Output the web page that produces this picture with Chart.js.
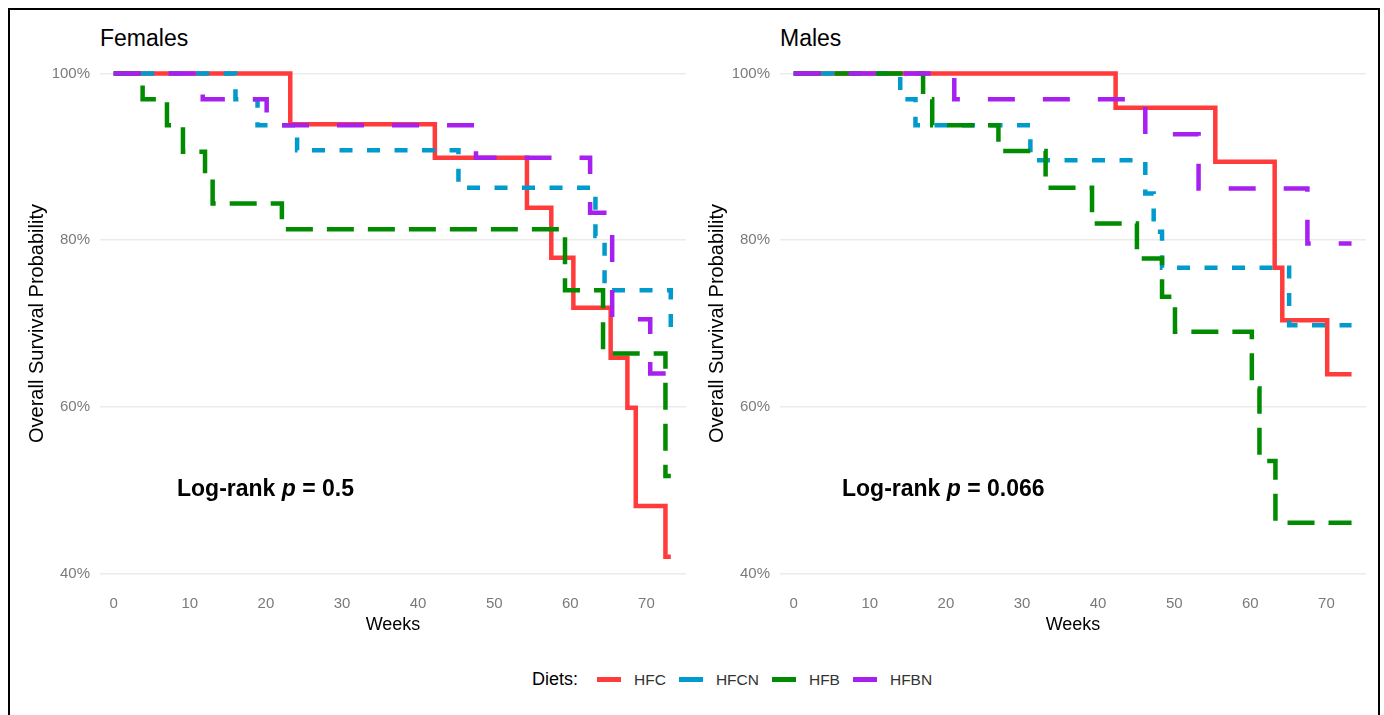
<html>
<head>
    <title>Survival by Diet</title>
    <script src="https://cdn.jsdelivr.net/npm/chart.js"></script>
    <style>
        body { margin: 0; background: #fff; font-family: 'Liberation Sans', Arial, sans-serif; }
        .frame { position: absolute; left: 8px; top: 8px; width: 1368px; height: 712px; border: 2px solid #000; }
        canvas { position: absolute; }
        .panel-title { position: absolute; top: 27px; font-size: 23px; line-height: 23px; color: #000; }
        .pval { position: absolute; top: 477px; font-size: 23px; line-height: 23px; font-weight: bold; color: #000; }
        #legend { position: absolute; left: 532px; top: 669px; display: flex; align-items: center; }
        #legend .lab { font-size: 18px; color: #000; margin-right: 19px; }
        #legend .sw { width: 24px; height: 5px; margin-right: 13px; }
        #legend .txt { font-size: 15.5px; color: #333; margin-right: 13px; }
    </style>
</head>
<body>
    <div class="frame"></div>
    <div class="panel-title" style="left:100px">Females</div>
    <div class="panel-title" style="left:780px">Males</div>
    <canvas id="femChart" width="680" height="598" style="left:10px; top:42px"></canvas>
    <canvas id="maleChart" width="686" height="598" style="left:690px; top:42px"></canvas>
    <div class="pval" style="left:177px">Log-rank <i>p</i> = 0.5</div>
    <div class="pval" style="left:842px">Log-rank <i>p</i> = 0.066</div>
    <div id="legend"></div>

    <script>
        // diets, colours, dash patterns
        const diets = ['HFC', 'HFCN', 'HFB', 'HFBN'];
        const dietColors = ['#FF3B3B', '#009ACD', '#008B00', '#A820F0'];
        const dietDash = [[], [13, 14.5], [27, 14], [27, 28]];

        const weekTicks = [0, 10, 20, 30, 40, 50, 60, 70];
        const survTicks = [40, 60, 80, 100];

        // Females: weeks at each step, survival % after the step
        const femHFC_t  = [0, 23.2, 42.2, 54.3, 57.5, 60.4, 65.3, 67.5, 68.6, 72.5, 73.2];
        const femHFC_s  = [100, 93.9, 89.9, 83.9, 77.9, 71.9, 65.9, 59.9, 48.1, 42.0, 42.0];
        const femHFCN_t = [0, 16.0, 18.9, 24.1, 45.3, 63.3, 64.5, 73.2, 73.4];
        const femHFCN_s = [100, 96.9, 93.8, 90.8, 86.3, 80.5, 74.0, 69.5, 69.5];
        const femHFB_t  = [0, 3.8, 7.0, 9.1, 12.0, 13.0, 22.1, 59.3, 64.3, 72.5, 73.2];
        const femHFB_s  = [100, 96.9, 93.8, 90.6, 87.5, 84.4, 81.3, 74.0, 66.4, 51.7, 51.7];
        const femHFBN_t = [0, 11.7, 20.1, 47.6, 62.6, 65.5, 70.5, 73.2];
        const femHFBN_s = [100, 96.9, 93.8, 89.9, 83.3, 70.5, 64.0, 64.0];

        // Males
        const maleHFC_t  = [0, 42.3, 55.4, 63.2, 64.2, 70.1, 73.3];
        const maleHFC_s  = [100, 95.9, 89.4, 76.7, 70.4, 63.9, 63.9];
        const maleHFCN_t = [0, 14.0, 16.0, 31.1, 46.2, 47.3, 48.4, 65.1, 73.3];
        const maleHFCN_s = [100, 96.9, 93.8, 89.6, 85.6, 81.0, 76.7, 69.8, 69.8];
        const maleHFB_t  = [0, 17.0, 18.2, 26.9, 33.1, 39.2, 45.1, 48.4, 50.1, 60.2, 61.2, 63.3, 73.3];
        const maleHFB_s  = [100, 96.9, 93.8, 90.7, 86.3, 82.0, 77.8, 73.2, 69.0, 62.2, 53.5, 46.1, 46.1];
        const maleHFBN_t = [0, 21.1, 46.2, 53.2, 67.5, 73.3];
        const maleHFBN_s = [100, 96.9, 92.7, 86.2, 79.6, 79.6];

        const tickFont = { family: "'Liberation Sans', Arial, sans-serif", size: 15 };
        const titleFont = { family: "'Liberation Sans', Arial, sans-serif", size: 20, lineHeight: 1.2 };

        function toPoints(t, s) {
            return t.map((x, i) => ({ x: x, y: s[i] }));
        }

        function makeChart(id, curves, rightPad) {
            const datasets = curves.map((c, i) => ({
                label: diets[i],
                data: toPoints(c[0], c[1]),
                borderColor: dietColors[i],
                borderDash: dietDash[i],
                borderWidth: 4.5,
                stepped: 'before',
                pointRadius: 0,
                fill: false,
                order: 4 - i   // purple on top, red at bottom
            }));
            new Chart(document.getElementById(id), {
                type: 'line',
                data: { datasets },
                options: {
                    responsive: false,
                    animation: false,
                    layout: { padding: { top: 0, right: rightPad, left: 0, bottom: 0 } },
                    plugins: { legend: { display: false }, tooltip: { enabled: false } },
                    scales: {
                        x: {
                            type: 'linear', min: -1.8, max: 75.2,
                            afterBuildTicks: s => { s.ticks = weekTicks.map(v => ({ value: v })); },
                            afterFit: s => { s.height = 54; },
                            grid: { display: false, drawTicks: false },
                            border: { display: false },
                            ticks: { padding: 9, color: '#7a7a7a', font: tickFont, maxRotation: 0 },
                            title: { display: true, text: 'Weeks', color: '#000', font: { family: titleFont.family, size: 18, lineHeight: 1.2 }, padding: { top: 0, bottom: 4 } }
                        },
                        y: {
                            min: 38.5, max: 101.5,
                            afterBuildTicks: s => { s.ticks = survTicks.map(v => ({ value: v })); },
                            afterFit: s => { s.width = 90; },
                            grid: { color: '#ebebeb', lineWidth: 1.5, drawTicks: false },
                            border: { display: false },
                            ticks: { padding: 10, color: '#7a7a7a', font: tickFont, callback: v => v + '%' },
                            title: { display: true, text: 'Overall Survival Probability', color: '#000', font: titleFont, padding: { top: 15, bottom: 0 } }
                        }
                    }
                }
            });
        }

        makeChart('femChart', [[femHFC_t, femHFC_s], [femHFCN_t, femHFCN_s], [femHFB_t, femHFB_s], [femHFBN_t, femHFBN_s]], 4);
        makeChart('maleChart', [[maleHFC_t, maleHFC_s], [maleHFCN_t, maleHFCN_s], [maleHFB_t, maleHFB_s], [maleHFBN_t, maleHFBN_s]], 10);

        // legend built from the diet arrays
        const legend = document.getElementById('legend');
        legend.innerHTML = '<span class="lab">Diets:</span>' + diets.map((d, i) =>
            `<span class="sw" style="background:${dietColors[i]}"></span><span class="txt">${d}</span>`).join('');
    </script>
</body>
</html>
